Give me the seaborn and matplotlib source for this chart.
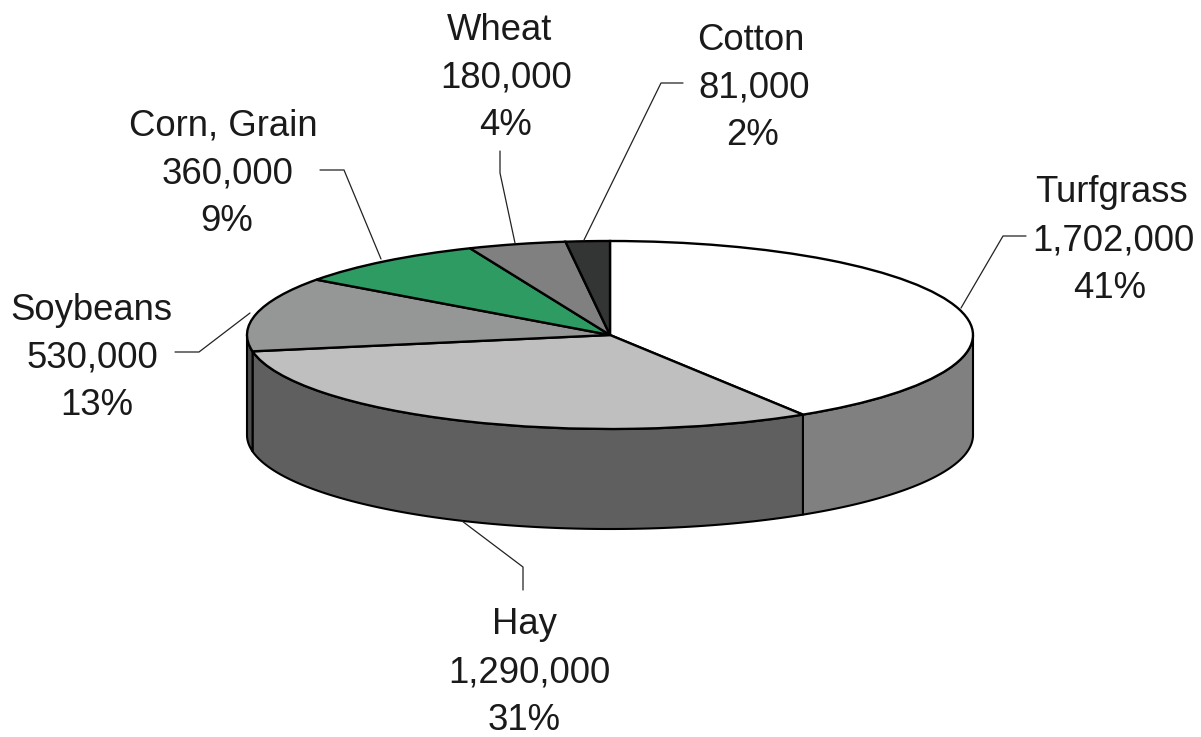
import numpy as np
import matplotlib
matplotlib.use("Agg")
import matplotlib.pyplot as plt
from matplotlib.lines import Line2D
import seaborn as sns

crops = ["Turfgrass", "Hay", "Soybeans", "Corn, Grain", "Wheat", "Cotton"]
acres = [1702000, 1290000, 530000, 360000, 180000, 81000]
top_colors = ["#FFFFFF", "#BFBFBF", "#959796", "#2E9B63", "#808080", "#333434"]
side_colors = ["#808080", "#5F5F5F", "#4C4C4C", "#176B40", "#505050", "#1A1A1A"]

# label layout in reference pixels: centre x of each text line, first line y
label_x = [[1112, 1113, 1110], [524, 529, 524], [91, 92, 97],
           [223, 228, 227], [500, 506, 505], [751, 754, 752]]
label_y = [189, 621, 306, 122, 26, 36]
line_gap = 47.7
leaders = [[(961, 308), (1003, 236), (1026, 236)],
           [(462, 521), (523, 567), (523, 590)],
           [(250, 313), (199, 352), (175, 352)],
           [(381, 259), (344, 170), (320, 170)],
           [(515, 243), (500, 173), (500, 151)],
           [(584, 240), (661, 83), (683, 83)]]

W, H = 1201, 737
CX, CY, RX, RY, DEPTH = 610, 335, 363, 94, 100

sns.set_theme(style="white")
plt.rcParams["font.family"] = ["Liberation Sans", "DejaVu Sans"]

fig = plt.figure(figsize=(W / 100, H / 100), dpi=100, facecolor="white")
ax = fig.add_axes([0, 0, 1, 1])

ax.pie(acres, colors=sns.color_palette(top_colors), startangle=90, counterclock=False,
       radius=1, wedgeprops=dict(edgecolor="black", linewidth=1.7, zorder=5))
ax.set_aspect("auto")
ax.set_xlim(-CX / RX, (W - CX) / RX)
ax.set_ylim(-(H - CY) / RY, CY / RY)
ax.axis("off")

# side wall of the disc: visible part of each slice, clockwise from the top
depth = DEPTH / RY
total = sum(acres)
edges = np.cumsum([0] + acres) / total * 2 * np.pi
for a0, a1, c in zip(edges[:-1], edges[1:], side_colors):
    lo, hi = max(a0, np.pi / 2), min(a1, 3 * np.pi / 2)
    if hi <= lo:
        continue
    t = np.linspace(lo, hi, 200)
    x, y = np.sin(t), np.cos(t)
    ax.fill(np.r_[x, x[::-1]], np.r_[y, y[::-1] - depth], facecolor=c,
            edgecolor="black", linewidth=1.5, zorder=2, joinstyle="round")

# labels and leader lines
for name, v, xs, y0, pts in zip(crops, acres, label_x, label_y, leaders):
    lines = [name, f"{v:,}", f"{round(v / total * 100)}%"]
    for i, (s, lx) in enumerate(zip(lines, xs)):
        fig.text(lx / W, 1 - (y0 + i * line_gap) / H, s, fontsize=26.3, color="#1A1A1A",
                 ha="center", va="center_baseline")
    px = [p[0] / W for p in pts]
    py = [1 - p[1] / H for p in pts]
    fig.add_artist(Line2D(px, py, color="#222222", linewidth=0.9, zorder=1))

fig.savefig("out.png", dpi=100)
